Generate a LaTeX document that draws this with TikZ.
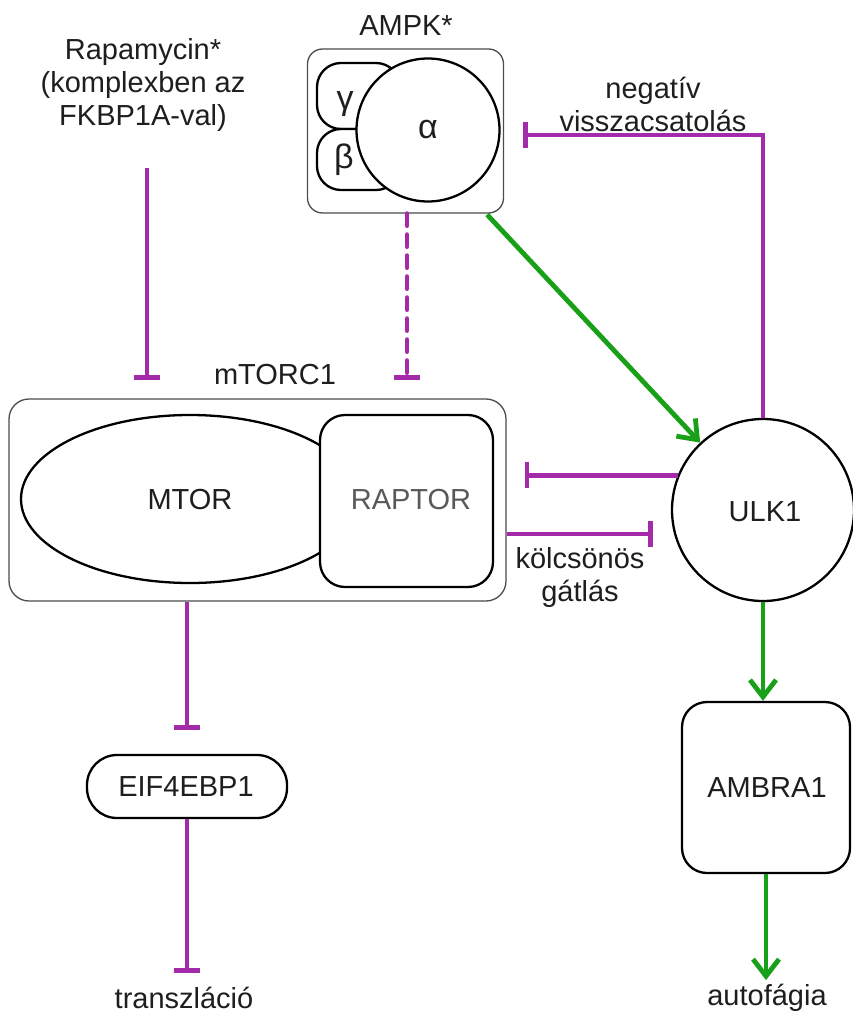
\documentclass[tikz,border=0pt]{standalone}
\usepackage{fontspec}
\setmainfont{Liberation Sans}
\usetikzlibrary{arrows.meta,shapes.geometric}
\definecolor{inhcol}{RGB}{163,42,168}
\definecolor{actcol}{RGB}{24,160,24}
\definecolor{txtcol}{RGB}{30,30,30}
\begin{document}
\begin{tikzpicture}[x=1pt,y=-1pt,
  lbl/.style={text=txtcol,font=\fontsize{29}{33}\selectfont,align=center,inner sep=0pt},
  greek/.style={text=txtcol,font=\fontsize{34}{38}\selectfont,inner sep=0pt},
  frame/.style={draw=black!70,line width=1.3pt},
  part/.style={draw=black,line width=2.3pt,fill=white},
  inh/.style={draw=inhcol,line width=4.8pt,-{Bar[width=26pt,line width=4.8pt]}},
  act/.style={draw=actcol,line width=4.8pt,-{Straight Barb[length=17pt,width=26pt,line width=4.8pt]}}]
\useasboundingbox (0,0) rectangle (852,1014);

% AMPK complex
\node[lbl] (ampklbl) at (406,26) {AMPK*};
\node[frame,rounded corners=15pt,minimum width=196pt,minimum height=164pt] (ampk) at (405.5,131) {};
\draw[part,rounded corners=24pt] (317,63) rectangle (400,129);
\draw[part,rounded corners=24pt] (317,129) rectangle (400,190);
\node[greek] (gamma) at (345,104) {γ};
\node[greek] (beta) at (344,160) {β};
\node[part,circle,minimum size=143pt,inner sep=0pt] (alpha) at (428,130) {};
\node[greek] at (alpha) {α};

% rapamycin
\node[lbl] (rapa) at (143,85) {Rapamycin*\\(komplexben az\\FKBP1A-val)};
\coordinate (rapaout) at (147,168);
\coordinate (rapain) at (147,380);

% mTORC1 complex
\node[lbl] (mtorclbl) at (275,375) {mTORC1};
\node[frame,rounded corners=20pt,minimum width=497pt,minimum height=202pt] (mtorc) at (257.5,500) {};
\node[part,ellipse,minimum width=338pt,minimum height=168pt,inner sep=0pt] (mtor) at (190,499) {};
\node[lbl] at (190,500) {MTOR};
\node[part,rounded corners=25pt,minimum width=173pt,minimum height=172pt] (raptor) at (406.5,501) {};
\node[lbl,text=black!65] at (411,500) {RAPTOR};

% ULK1 and downstream
\node[part,circle,minimum size=182pt,inner sep=0pt] (ulk) at (763,510) {};
\node[lbl] at (765,512) {ULK1};
\node[part,rounded corners=25pt,minimum width=168pt,minimum height=171pt] (ambra) at (766,787.5) {};
\node[lbl] at (767,788) {AMBRA1};
\node[lbl] (autof) at (767,998) {autofágia};

\node[part,rounded corners=30pt,minimum width=200pt,minimum height=63pt] (eif) at (187,786.5) {};
\node[lbl] at (186,787) {EIF4EBP1};
\node[lbl] (transl) at (184,998) {transzláció};

% labels on the feedback loops
\node[lbl] (neglbl) at (653,104) {negatív\\visszacsatolás};
\node[lbl] (mutlbl) at (580,577) {kölcsönös\\gátlás};

% inhibitory connectors (yshift is measured upwards on the page)
\draw[inh] (rapaout) -- (rapain);
\draw[inh,dash pattern=on 12pt off 9pt,line cap=round] (ampk.south -| 407,0) -- (407,380);
\coordinate (fbend) at (523,135);
\draw[inh,line join=miter] (ulk.north) |- (fbend);
\draw[inh] (ulk.158) -- ([xshift=18pt]mtorc.east |- ulk.158);
\coordinate (mlo) at ([yshift=-34pt]mtorc.east);
\draw[inh] (mlo) -- ([xshift=-18pt]mlo -| ulk.west);
\draw[inh] (mtorc.south -| eif.north) -- ([yshift=24pt]eif.north);
\draw[inh] (eif.south) -- ([yshift=14pt]eif.south |- transl.north);

% activating connectors
\draw[act] ([xshift=-17pt,yshift=-1pt]ampk.south east) -- (ulk.133);
\draw[act] (ulk.south) -- (ulk.south |- ambra.north);
\draw[act] (ambra.south) -- ([yshift=4pt]ambra.south |- autof.north);
\end{tikzpicture}
\end{document}
